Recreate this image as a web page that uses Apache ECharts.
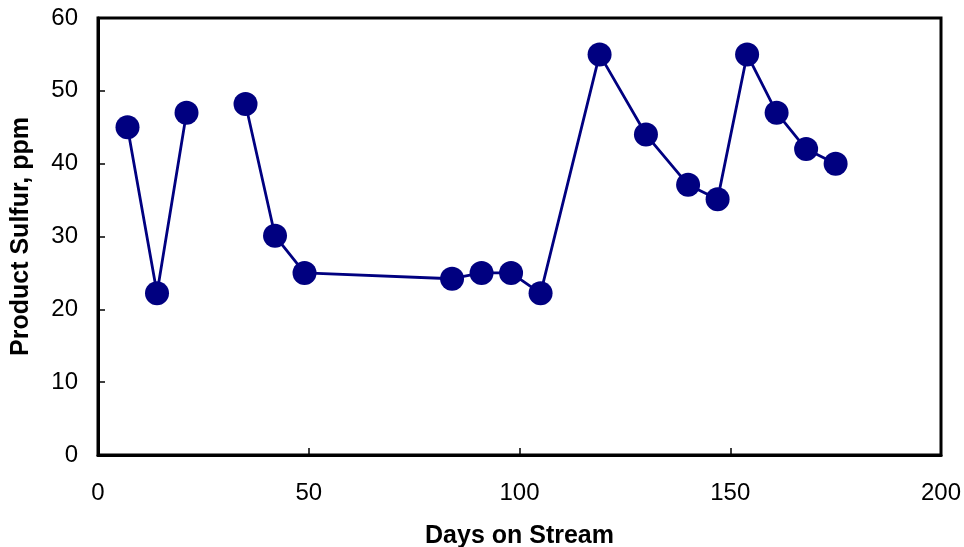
<!DOCTYPE html>
<html>
<head>
<meta charset="utf-8">
<script src="https://cdn.jsdelivr.net/npm/echarts@6/dist/echarts.min.js"></script>
<style>
html,body{margin:0;padding:0;background:#fff;}
#chart{width:964px;height:547px;}
</style>
</head>
<body>
<div id="chart"></div>
<script>
// Days on stream (x) and product sulfur (y); null marks a gap in the line
const days = [7, 14, 21, 28, 35, 42, 49, 84, 91, 98, 105, 119, 130, 140, 147, 154, 161, 168, 175];
const sulfur = [45, 22.2, 47, null, 48.2, 30.1, 25, 24.2, 25, 25, 22.2, 55, 44, 37.1, 35.1, 55, 47, 42, 40];
const xTicks = [0, 50, 100, 150, 200];
const yTicks = [0, 10, 20, 30, 40, 50, 60];
const xTitle = 'Days on Stream';
const yTitle = 'Product Sulfur, ppm';

const seriesData = days.map((d, i) => [d, sulfur[i] === null ? '-' : sulfur[i]]);
const font = '"Liberation Sans", Arial, Helvetica, sans-serif';

const chart = echarts.init(document.getElementById('chart'), null, {renderer: 'canvas'});
chart.setOption({
  animation: false,
  backgroundColor: '#fff',
  grid: {
    left: 98, right: 23, top: 18, bottom: 92,
    containLabel: false, outerBoundsMode: 'none',
    show: true, borderColor: '#000', borderWidth: 3, backgroundColor: 'transparent'
  },
  xAxis: {
    type: 'value',
    min: xTicks[0], max: xTicks[xTicks.length - 1], interval: 50,
    name: xTitle, nameLocation: 'middle', nameGap: 69,
    nameTextStyle: {fontFamily: font, fontWeight: 'bold', fontSize: 25, color: '#000'},
    axisLine: {show: true, onZero: false, lineStyle: {color: '#000', width: 3}},
    axisTick: {show: true, inside: true, length: 7, lineStyle: {color: '#000', width: 1.5}},
    axisLabel: {fontFamily: font, fontSize: 24, color: '#000', margin: 26},
    splitLine: {show: false}
  },
  yAxis: {
    type: 'value',
    min: yTicks[0], max: yTicks[yTicks.length - 1], interval: 10,
    name: yTitle, nameLocation: 'middle', nameGap: 64,
    nameTextStyle: {fontFamily: font, fontWeight: 'bold', fontSize: 25, color: '#000'},
    axisLine: {show: true, onZero: false, lineStyle: {color: '#000', width: 3}},
    axisTick: {show: true, inside: true, length: 7, lineStyle: {color: '#000', width: 1.5}},
    axisLabel: {fontFamily: font, fontSize: 24, color: '#000', margin: 20},
    splitLine: {show: false}
  },
  series: [{
    type: 'line',
    data: seriesData,
    connectNulls: false,
    symbol: 'circle',
    symbolSize: 24,
    lineStyle: {color: '#000080', width: 2.8},
    itemStyle: {color: '#000080'},
    z: 3
  }]
});
</script>
</body>
</html>
